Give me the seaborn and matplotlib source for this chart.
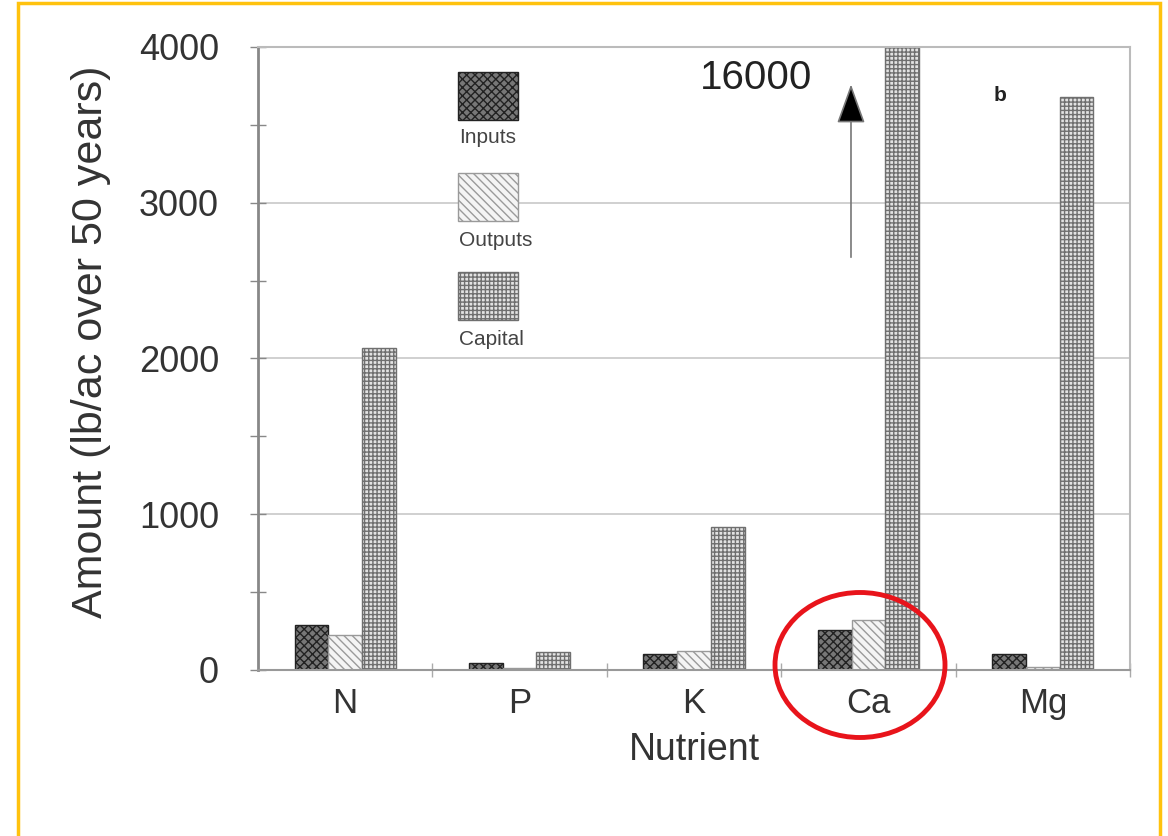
import pandas as pd
import matplotlib.pyplot as plt
import seaborn as sns
from matplotlib.patches import Rectangle, Ellipse

# Nutrient budget values (lb/ac over 50 years)
nutrients = ['N', 'P', 'K', 'Ca', 'Mg']
inputs = [290, 45, 100, 255, 100]
outputs = [225, 10, 120, 320, 20]
capital = [2070, 115, 920, 16000, 3680]
series = ['Inputs', 'Outputs', 'Capital']

df = pd.DataFrame({
    'nutrient': nutrients * 3,
    'amount': inputs + outputs + capital,
    'series': [s for s in series for _ in nutrients],
})

sns.set_style('white')
plt.rcParams['font.family'] = ['Liberation Sans', 'DejaVu Sans']
plt.rcParams['hatch.linewidth'] = 1.0

fig = plt.figure(figsize=(11.68, 8.36), dpi=100)
ax = fig.add_axes([0.2209, 0.1986, 0.9675 - 0.2209, 0.9438 - 0.1986])

sns.barplot(data=df, x='nutrient', y='amount', hue='series', order=nutrients,
            hue_order=series, width=0.58, legend=False, ax=ax,
            palette=['white', 'white', 'white'])

# hatch styles per series
styles = [
    dict(face='#777777', edge='#222222', hatch='xxxx'),
    dict(face='#f4f4f4', edge='#9a9a9a', hatch='\\\\\\\\'),
    dict(face='#e2e2e2', edge='#6f6f6f', hatch='++++'),
]
for cont, st in zip(ax.containers, styles):
    for bar in cont:
        bar.set_facecolor(st['face'])
        bar.set_edgecolor(st['edge'])
        bar.set_hatch(st['hatch'])
        bar.set_linewidth(1.0)

ax.set_ylim(0, 4000)
ax.set_xlim(-0.5, 4.5)
ax.set_yticks([0, 1000, 2000, 3000, 4000])
ax.set_yticks([500, 1500, 2500, 3500], minor=True)
ax.set_xticks([0.5, 1.5, 2.5, 3.5, 4.5], minor=True)
ax.yaxis.grid(True, color='#c8c8c8', linewidth=1.2)
ax.set_axisbelow(True)

ax.tick_params(axis='y', which='both', direction='inout', length=12, width=1,
               color='#888888', labelsize=26, labelcolor='#333333', pad=22, left=True)
ax.tick_params(axis='x', which='major', length=0, labelsize=25,
               labelcolor='#333333', pad=12)
ax.tick_params(axis='x', which='minor', direction='inout', length=10,
               width=1, color='#aaaaaa', bottom=True)

for side in ['top', 'right']:
    ax.spines[side].set_color('#bbbbbb')
    ax.spines[side].set_linewidth(1.5)
ax.spines['left'].set_color('#888888')
ax.spines['left'].set_linewidth(2)
ax.spines['bottom'].set_color('#999999')
ax.spines['bottom'].set_linewidth(1.5)

ax.set_xlabel('Nutrient', fontsize=27, color='#333333', labelpad=9)
ax.set_ylabel('Amount (lb/ac over 50 years)', fontsize=31, color='#333333')
ax.yaxis.set_label_coords(-0.169, 0.526)

# custom legend: swatch with label below
leg_top = [0.96, 0.798, 0.639]
leg_lab = [0.854, 0.69, 0.53]
for st, name, yt, yl in zip(styles, series, leg_top, leg_lab):
    ax.add_patch(Rectangle((0.229, yt - 0.078), 0.069, 0.078, transform=ax.transAxes,
                           facecolor=st['face'], edgecolor=st['edge'],
                           hatch=st['hatch'], linewidth=1.0, clip_on=False))
    ax.text(0.231, yl, name, transform=ax.transAxes, fontsize=15,
            color='#444444', va='center', ha='left')

# off-scale marker for Ca capital
ax.annotate('', xy=(2.90, 3760), xytext=(2.90, 2650),
            arrowprops=dict(arrowstyle='-|>,head_length=1.25,head_width=0.45',
                            facecolor='black', edgecolor='#777777', lw=1.2,
                            mutation_scale=20, shrinkA=0, shrinkB=0))
ax.text(2.68, 3800, '16000', fontsize=29, color='#222222', ha='right', va='center')
ax.text(3.755, 3690, 'b', fontsize=15, fontweight='bold', color='#222222',
        ha='center', va='center')

# red highlight ellipse around Ca
fig.patches.append(Ellipse((860 / 1168, 1 - 665 / 836), 170 / 1168, 145 / 836,
                           transform=fig.transFigure, fill=False,
                           edgecolor='#e8141b', linewidth=3.5))
# yellow frame
fig.patches.append(Rectangle((18 / 1168, -0.05), (1160 - 18) / 1168, 1.05 - 3 / 836,
                             transform=fig.transFigure, fill=False,
                             edgecolor='#ffc20e', linewidth=2.5))

fig.savefig('out.png', dpi=100)
